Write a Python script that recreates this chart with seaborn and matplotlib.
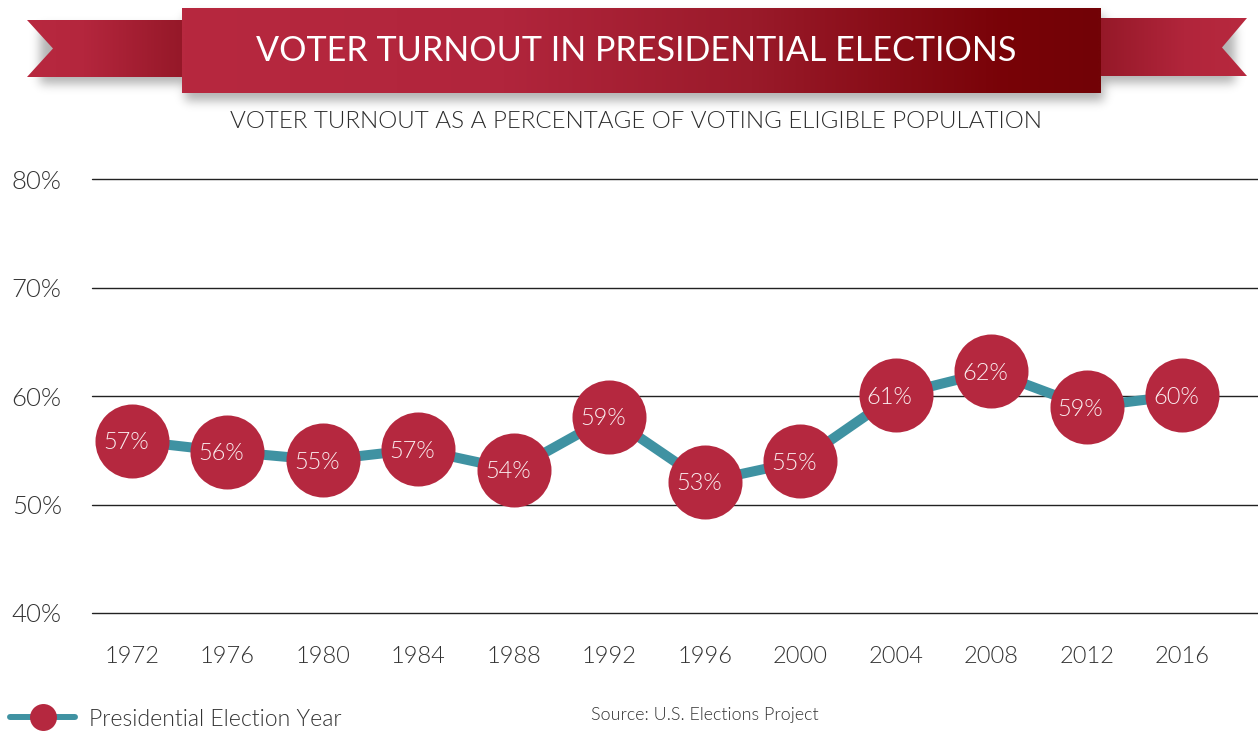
import numpy as np
import pandas as pd
import matplotlib
matplotlib.use("Agg")
import matplotlib.pyplot as plt
import seaborn as sns
from matplotlib.patches import Polygon
from matplotlib.colors import LinearSegmentedColormap
from matplotlib.lines import Line2D

# ---------------- data ----------------
years = [1972, 1976, 1980, 1984, 1988, 1992, 1996, 2000, 2004, 2008, 2012, 2016]
turnout = [55.9, 54.9, 54.1, 55.1, 53.2, 58.1, 52.1, 54.0, 60.1, 62.3, 59.0, 60.1]
point_labels = ["57%", "56%", "55%", "57%", "54%", "59%", "53%", "55%", "61%", "62%", "59%", "60%"]
yticks = [40, 50, 60, 70, 80]
ytick_labels = ["40%", "50%", "60%", "70%", "80%"]
xtick_labels = [str(y) for y in years]
title = "VOTER TURNOUT IN PRESIDENTIAL ELECTIONS"
subtitle = "VOTER TURNOUT AS A PERCENTAGE OF VOTING ELIGIBLE POPULATION"
legend_label = "Presidential Election Year"
source = "Source: U.S. Elections Project"

RED = "#b5283f"
TEAL = "#3f92a2"
TXT = "#333333"

sns.set_theme(style="white")
plt.rcParams['font.family'] = ['Lato', 'DejaVu Sans']
plt.rcParams['font.weight'] = 300

W, H = 1258, 731
fig = plt.figure(figsize=(W / 100, H / 100), dpi=100)
fig.patch.set_facecolor("white")

# background axes in pixel coordinates for the banner
bg = fig.add_axes([0, 0, 1, 1], zorder=0)
bg.set_xlim(0, W)
bg.set_ylim(H, 0)
bg.axis("off")


def grad_fill(poly_xy, x0, x1, stops, z):
    poly = Polygon(poly_xy, closed=True, facecolor="none", edgecolor="none",
                   transform=bg.transData)
    bg.add_patch(poly)
    cmap = LinearSegmentedColormap.from_list("g", stops)
    grad = np.linspace(0, 1, 512).reshape(1, -1)
    ys = [p[1] for p in poly_xy]
    im = bg.imshow(grad, cmap=cmap, extent=(x0, x1, max(ys), min(ys)),
                   aspect="auto", zorder=z, interpolation="bilinear")
    im.set_clip_path(poly)


# soft shadow
sh = np.zeros((150, W))
sh[15:101, 185:1104] = 1
sh[27:84, 40:185] = 1
sh[25:83, 1104:1235] = 1
k = np.exp(-0.5 * (np.arange(-18, 19) / 5.0) ** 2)
k /= k.sum()
sh = np.apply_along_axis(lambda r: np.convolve(r, k, mode="same"), 1, sh)
sh = np.apply_along_axis(lambda c: np.convolve(c, k, mode="same"), 0, sh)
rgba = np.zeros((150, W, 4))
rgba[..., 3] = sh * 0.30
bg.imshow(rgba, extent=(0, W, 150, 0), zorder=1, interpolation="bilinear", aspect="auto")

# left tail
grad_fill([(27, 20), (190, 20), (190, 77), (27, 77), (53, 48.5)], 27, 190,
          [(0, "#b8283f"), (0.35, "#b4263d"), (1, "#931727")], 2)
# right tail
grad_fill([(1090, 18), (1247, 18), (1222, 47.5), (1247, 76), (1090, 76)], 1090, 1247,
          [(0, "#921726"), (0.6, "#b1253b"), (1, "#b8293f")], 2)
# main rectangle
grad_fill([(182, 8), (1101, 8), (1101, 93.5), (182, 93.5)], 182, 1101,
          [(0, "#b7283f"), (0.35, "#b1253c"), (0.62, "#9a1a2a"), (0.9, "#780207"), (1, "#720306")], 3)

bg.text(636, 51, title, color="white", fontsize=24.6, fontweight="normal",
        ha="center", va="center", zorder=5)
bg.text(636, 121, subtitle, color="#2b2b2b", fontsize=17.35, ha="center", va="center", zorder=5)
bg.text(590.7, 715, source, color=TXT, fontsize=12.9, ha="left", va="center", zorder=5)
bg.set_xlim(0, W)
bg.set_ylim(H, 0)


def px_axes(l, t, r, b):
    return [l / W, 1 - b / H, (r - l) / W, (b - t) / H]


ax = fig.add_axes(px_axes(91.7, 179.5, 1258, 613), zorder=1)
ax.patch.set_alpha(0)

df = pd.DataFrame({"year": years, "turnout": turnout})
sns.lineplot(data=df, x="year", y="turnout", ax=ax, color=TEAL, lw=7.2,
             marker="o", markersize=53.3, markerfacecolor=RED, markeredgecolor=RED,
             markeredgewidth=0, zorder=3, clip_on=False)

for yr, v, lab in zip(years, turnout, point_labels):
    ax.annotate(lab, (yr, v), xytext=(-4.3, 0), textcoords="offset points",
                ha="center", va="center_baseline", color="#fbeef0", fontsize=17, zorder=5)

ax.set_xlim(1970.32, 2019.18)
ax.set_ylim(40, 80)
ax.set_xticks(years)
ax.set_xticklabels(xtick_labels)
ax.set_yticks(yticks)
ax.set_yticklabels(ytick_labels)
ax.tick_params(axis="x", length=0, pad=24, labelsize=17, labelcolor=TXT)
ax.tick_params(axis="y", length=0, pad=21.6, labelsize=18.5, labelcolor=TXT)
ax.set_xlabel("")
ax.set_ylabel("")
ax.xaxis.grid(False)
ax.yaxis.grid(True, color="#222222", lw=1.0)
for gl in ax.get_ygridlines():
    gl.set_clip_on(False)
for s in ax.spines.values():
    s.set_visible(False)

handle = Line2D([], [], color=TEAL, lw=4.3, marker="o", markersize=19.4,
                markerfacecolor=RED, markeredgecolor=RED, markeredgewidth=0)
leg = ax.legend([handle], [legend_label], loc="center left",
                bbox_to_anchor=(10 / W, 1 - 719 / H), bbox_transform=fig.transFigure,
                frameon=False, borderpad=0, borderaxespad=0, fontsize=16.6,
                handlelength=2.82, handletextpad=0.61)
for t in leg.get_texts():
    t.set_color(TXT)

fig.savefig("out.png", dpi=100)
